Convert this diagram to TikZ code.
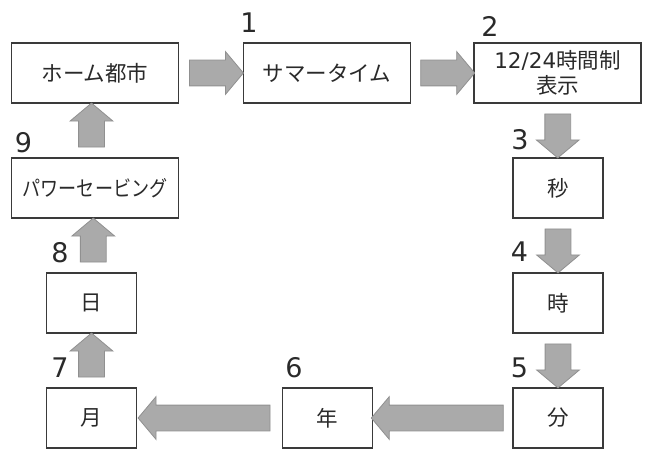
\documentclass[tikz,border=0pt]{standalone}
\usepackage{fontspec}
\setmainfont{Noto Sans CJK JP}
\newfontfamily\latf{DejaVu Sans}
\usetikzlibrary{shapes.arrows,calc}
\definecolor{boxline}{HTML}{3A3A3A}
\definecolor{textc}{HTML}{2A2A2A}
\definecolor{arrfill}{HTML}{AAAAAA}
\definecolor{arrline}{HTML}{909090}
\begin{document}
\begin{tikzpicture}[x=1pt,y=-1pt,
  box/.style={draw=boxline, line width=1.6pt, fill=white, minimum height=60pt,
    inner sep=0pt, align=center, font=\fontsize{21.5}{25}\selectfont, text=textc},
  wide/.style={box, minimum width=167pt},
  narrow/.style={box, minimum width=90pt},
  num/.style={inner sep=0pt, font=\latf\fontsize{27}{30}\selectfont, text=textc},
  blk/.style={single arrow, draw=arrline, fill=arrfill, line width=0.8pt,
    minimum width=42pt, single arrow head extend=8.5pt, single arrow tip angle=100,
    inner sep=0pt, text height=25pt, text depth=0pt, text width=0pt, anchor=center},
  blkh/.style={blk, minimum height=54pt},
  blkv/.style={blk, minimum height=44pt},
  blkl/.style={blk, minimum height=132pt}]
\path[use as bounding box] (0,0) rectangle (645,454);

\node[wide]   (home)   at (95,73)    {ホーム都市};
\node[wide]   (summer) at (327,73)   {サマータイム};
\node[wide]   (clock)  at (557.5,73) {{\latf 12/24}時間制\\表示};
\node[narrow] (sec)    at (558,188)  {秒};
\node[narrow] (hour)   at (558,303)  {時};
\node[narrow] (min)    at (558,418)  {分};
\node[narrow] (year)   at (327.5,418){年};
\node[narrow] (month)  at (91.5,418) {月};
\node[narrow] (day)    at (91.5,303) {日};
\node[wide]   (power)  at (95,188)   {\scalebox{0.84}[1]{パワーセービング}};

\node[blkh] (a1) at ($(home.east)!0.5!(summer.west)$) {};
\node[blkh] (a2) at ($(summer.east)!0.5!(clock.west)$) {};
\node[blkv, rotate=-90] (a3) at ($(clock.south)!0.5!(sec.north)$) {};
\node[blkv, rotate=-90] (a4) at ($(sec.south)!0.5!(hour.north)$) {};
\node[blkv, rotate=-90] (a5) at ($(hour.south)!0.5!(min.north)$) {};
\node[blkl, rotate=180] (a6) at ($(min.west)!0.5!(year.east)$) {};
\node[blkl, rotate=180] (a7) at ($(year.west)!0.5!(month.east)$) {};
\node[blkv, rotate=90] (a8) at ($(month.north)!0.5!(day.south)$) {};
\node[blkv, rotate=90] (a9) at ($(day.north)!0.5!(power.south)$) {};
\node[blkv, rotate=90] (a10) at ($(day.center |- power.north)!0.5!(day.center |- home.south)$) {};

\node[num] (n1) at (249,23)  {1};
\node[num] (n2) at (490,26)  {2};
\node[num] (n3) at (520,140) {3};
\node[num] (n4) at (519.5,252) {4};
\node[num] (n5) at (519.5,368) {5};
\node[num] (n6) at (294,368) {6};
\node[num] (n7) at (60,368)  {7};
\node[num] (n8) at (60,253)  {8};
\node[num] (n9) at (23.5,143) {9};
\end{tikzpicture}
\end{document}
